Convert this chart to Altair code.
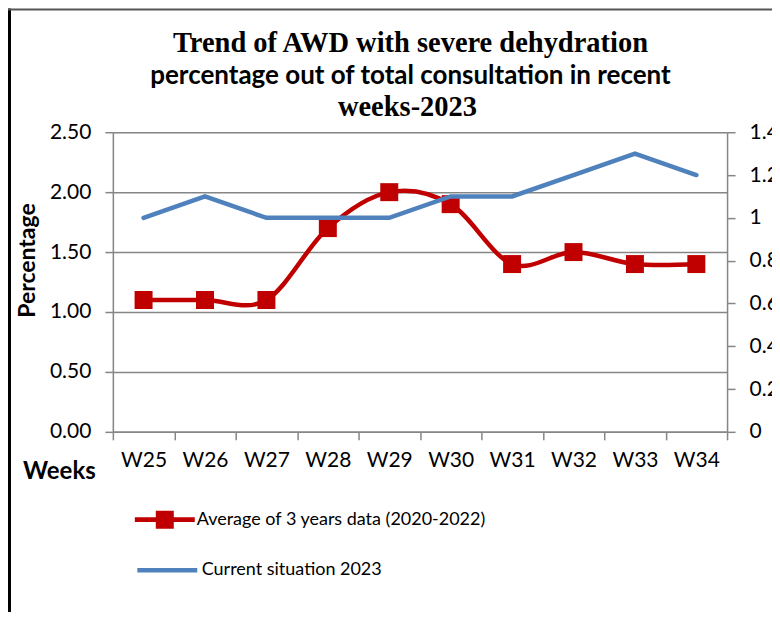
import altair as alt
import pandas as pd

weeks = ["W25", "W26", "W27", "W28", "W29", "W30", "W31", "W32", "W33", "W34"]
avg_3yr = [1.1, 1.1, 1.1, 1.7, 2.0, 1.9, 1.4, 1.5, 1.4, 1.4]
current_2023 = [1.0, 1.1, 1.0, 1.0, 1.0, 1.1, 1.1, 1.2, 1.3, 1.2]
left_ticks = [0, 0.5, 1.0, 1.5, 2.0, 2.5]
right_ticks = [0, 0.2, 0.4, 0.6, 0.8, 1, 1.2, 1.4]
avg_name = "Average of 3 years data (2020-2022)"
cur_name = "Current situation 2023"
title_lines = ["Trend of AWD with severe dehydration",
               "percentage out of total consultation in recent",
               "weeks-2023"]

df = pd.DataFrame({"week": weeks, "avg": avg_3yr, "cur": current_2023})
df["s_avg"] = avg_name
df["s_cur"] = cur_name

RED = "#C00000"
BLUE = "#4F81BD"
GRAY = "#868686"
SANS = "Lato"
SERIF = "Liberation Serif"

x_enc = alt.X("week:N", sort=weeks, title="Weeks",
              scale=alt.Scale(paddingInner=0, paddingOuter=0),
              axis=alt.Axis(labelAngle=0, tickBand="extent", tickSize=8,
                            tickColor=GRAY, domainColor=GRAY, domainWidth=1.5, tickWidth=1.5,
                            labelFont=SANS, labelFontSize=21, labelColor="black",
                            labelPadding=10,
                            titleFont=SANS, titleFontSize=24, titleFontWeight="bold",
                            titleColor="black", titleX=-54, titleY=40,
                            titleAlign="center", titleBaseline="middle", grid=False))

y_left = alt.Y("avg:Q", title="Percentage",
               scale=alt.Scale(domain=[0, 2.5]),
               axis=alt.Axis(orient="left", values=left_ticks, format=".2f",
                             grid=True, gridColor=GRAY, gridWidth=1.5,
                             tickSize=8, tickColor=GRAY, tickWidth=1.5,
                             domainColor=GRAY, domainWidth=1.5,
                             labelFont=SANS, labelFontSize=21, labelColor="black",
                             labelPadding=14,
                             titleFont=SANS, titleFontSize=23, titleFontWeight="bold",
                             titleColor="black", titleX=-85, titleY=128,
                             titleAngle=270, titleAlign="center", titleBaseline="middle"))

y_right = alt.Y("cur:Q", title=None,
                scale=alt.Scale(domain=[0, 1.4]),
                axis=alt.Axis(orient="right", values=right_ticks, format="~g",
                              grid=False, tickSize=8, tickColor=GRAY, tickWidth=1.5,
                              domainColor=GRAY, domainWidth=1.5,
                              labelFont=SANS, labelFontSize=21, labelColor="black",
                              labelPadding=14))

red_path = "M-1,-0.08H1V0.08H-1Z M-0.3,-0.3H0.3V0.3H-0.3Z"

red_color = alt.Color("s_avg:N", title=None,
                      scale=alt.Scale(domain=[avg_name], range=[RED]),
                      legend=alt.Legend(orient="none", legendX=22, legendY=358,
                                        symbolType=red_path, symbolSize=3600,
                                        symbolFillColor=RED, symbolStrokeWidth=0,
                                        labelFont=SANS, labelFontSize=18, labelLimit=0,
                                        labelColor="black", labelOffset=2, padding=0))

blue_color = alt.Color("s_cur:N", title=None,
                       scale=alt.Scale(domain=[cur_name], range=[BLUE]),
                       legend=alt.Legend(orient="none", legendX=22, legendY=406,
                                         symbolType="stroke", symbolSize=3600,
                                         symbolStrokeWidth=4.5, symbolStrokeColor=BLUE,
                                         labelFont=SANS, labelFontSize=18, labelLimit=0,
                                         labelColor="black", labelOffset=2, padding=0))

base = alt.Chart(df)

red_line = base.mark_line(interpolate="cardinal", strokeWidth=4.5).encode(
    x=x_enc, y=y_left, color=red_color)
red_pts = base.mark_point(shape="square", filled=True, size=324, opacity=1).encode(
    x=x_enc, y=y_left, color=red_color)
red_layer = alt.layer(red_line, red_pts)

blue_line = base.mark_line(strokeWidth=4.5, strokeCap="round").encode(
    x=x_enc, y=y_right, color=blue_color)

def title_text(line, font, size, xpos, ypos):
    return alt.Chart(pd.DataFrame({"t": [line]})).mark_text(
        font=font, fontSize=size, fontWeight="bold", color="black",
        baseline="alphabetic", align="center").encode(
        text="t:N", x=alt.value(xpos), y=alt.value(ypos))

t1 = title_text(title_lines[0], SERIF, 28.5, 298, -80)
t2 = title_text(title_lines[1], SANS, 26, 298, -48)
t3 = title_text(title_lines[2], SERIF, 28.5, 295, -16)

frame_src = pd.DataFrame({"k": [0]})
left_border = alt.Chart(frame_src).mark_rule(color="black", strokeWidth=3).encode(
    x=alt.value(-103.5), y=alt.value(-124), y2=alt.value(600))
top_border = alt.Chart(frame_src).mark_rule(color="#555555", strokeWidth=2).encode(
    x=alt.value(-105), x2=alt.value(700), y=alt.value(-123))

chart = alt.layer(red_layer, blue_line, t1, t2, t3, left_border, top_border).resolve_scale(
    y="independent", color="independent"
).properties(
    width=615, height=300,
    padding={"left": 105, "top": 124, "right": 45, "bottom": 180},
    autosize=alt.AutoSizeParams(type="none"),
).configure_view(stroke=None).configure(background="white")

chart.save("out.html", embed_options={"renderer": "svg", "actions": False})
